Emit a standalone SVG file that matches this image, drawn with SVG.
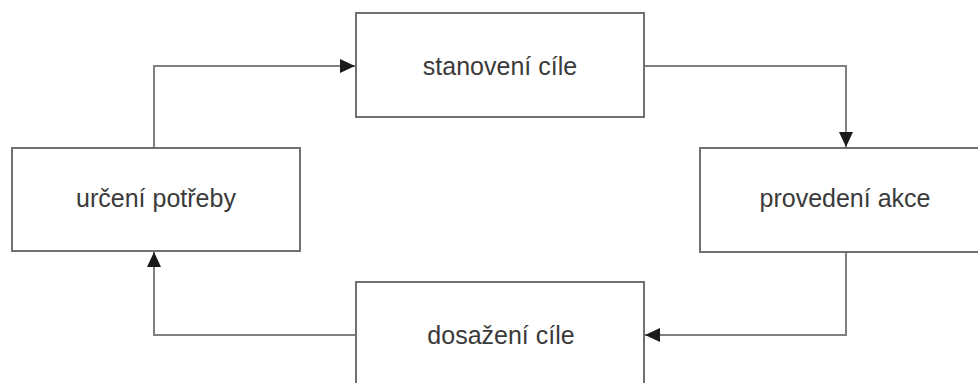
<svg xmlns="http://www.w3.org/2000/svg" width="978" height="383" viewBox="0 0 978 383">
<style>
.box{fill:#fff;stroke:#707070;stroke-width:2}
.lbl{font-family:"Liberation Sans",Arial,sans-serif;font-size:25px;fill:#3a3a3a;text-anchor:middle}
.con{fill:none;stroke:#808080;stroke-width:2}
</style>
<defs>
<marker id="ah" markerWidth="16" markerHeight="16" refX="15" refY="8" orient="auto" markerUnits="userSpaceOnUse">
<path d="M0,1 L15,8 L0,15 Z" fill="#1a1a1a"/>
</marker>
</defs>
<rect width="978" height="383" fill="#fff"/>
<g id="connectors">
<path class="con" d="M154,148 V66 H355" marker-end="url(#ah)"/>
<path class="con" d="M645,66 H846 V147" marker-end="url(#ah)"/>
<path class="con" d="M846,253 V335 H645" marker-end="url(#ah)"/>
<path class="con" d="M355,335 H154 V252" marker-end="url(#ah)"/>
</g>
<g id="node-stanoveni">
<rect class="box" x="356" y="13" width="288" height="104"/>
<text class="lbl" x="500" y="75">stanovení cíle</text>
</g>
<g id="node-urceni">
<rect class="box" x="12" y="148" width="288" height="103"/>
<text class="lbl" x="156" y="207">určení potřeby</text>
</g>
<g id="node-provedeni">
<rect class="box" x="700" y="148" width="290" height="104"/>
<text class="lbl" x="845" y="207">provedení akce</text>
</g>
<g id="node-dosazeni">
<rect class="box" x="356" y="282" width="288" height="110"/>
<text class="lbl" x="501" y="344">dosažení cíle</text>
</g>
</svg>
